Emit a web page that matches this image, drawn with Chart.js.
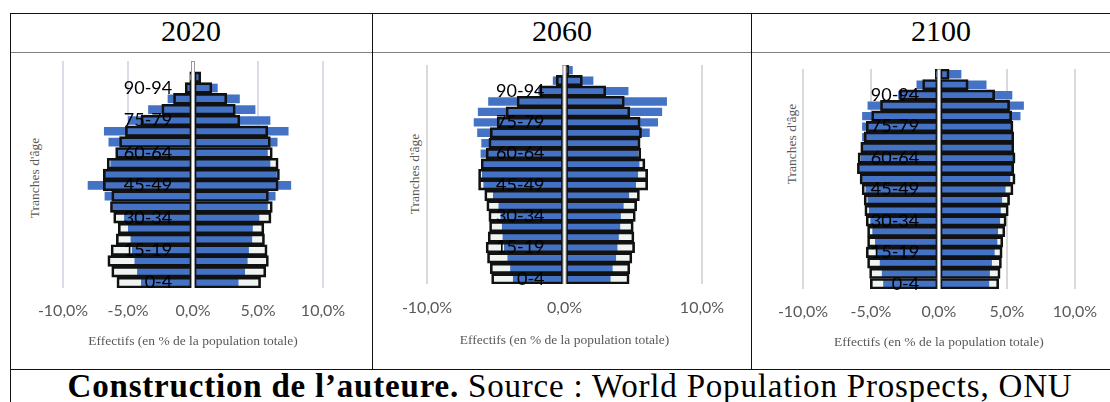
<!DOCTYPE html>
<html>
<head>
<meta charset="utf-8">
<script src="https://cdn.jsdelivr.net/npm/chart.js@4.4.1/dist/chart.umd.min.js"></script>
<style>
  body { margin: 0; background: #fff; }
  #page { position: relative; width: 1110px; height: 402px; overflow: hidden; font-family: "Liberation Serif", serif; }
  .hl { position: absolute; height: 0; border-top: 1.5px solid #111; }
  .vl { position: absolute; width: 0; border-left: 1.5px solid #111; }
  .head { position: absolute; top: 13px; height: 40px; line-height: 36px; text-align: center; font-size: 30px; color: #000; }
  .ytitle { position: absolute; transform: translate(-50%, -50%) rotate(-90deg); font-size: 13.5px; color: #595959; white-space: nowrap; }
  #caption { position: absolute; left: 10px; width: 1120px; top: 369px; line-height: 34px; text-align: center; font-size: 33px; letter-spacing: 0.8px; white-space: nowrap; }
  canvas { position: absolute; }
</style>
</head>
<body>
<div id="page">
  <div class="hl" style="left:10px;width:1100px;top:12.5px"></div>
  <div class="hl" style="left:10px;width:1100px;top:52px;border-top:1px solid #808080"></div>
  <div class="hl" style="left:10px;width:1100px;top:368.5px"></div>
  <div class="vl" style="left:9.5px;top:13px;height:389px"></div>
  <div class="vl" style="left:372px;top:13px;height:356px"></div>
  <div class="vl" style="left:751px;top:13px;height:356px"></div>

  <div class="head" style="left:10px;width:362px">2020</div>
  <div class="head" style="left:373px;width:378px">2060</div>
  <div class="head" style="left:752px;width:378px">2100</div>

  <span class="ytitle" style="left:35px;top:178px">Tranches d'âge</span>
  <span class="ytitle" style="left:415px;top:174px">Tranches d'âge</span>
  <span class="ytitle" style="left:792px;top:144px">Tranches d'âge</span>

  <canvas id="c2020" width="356" height="338" style="left:14px;top:26px"></canvas>
  <canvas id="c2060" width="372" height="334" style="left:376px;top:30px"></canvas>
  <canvas id="c2100" width="355" height="330" style="left:755px;top:34px"></canvas>

  <div id="caption"><b>Construction de l’auteure.</b> Source : World Population Prospects, ONU</div>
</div>

<script>
const ages = ['0-4', '5-9', '10-14', '15-19', '20-24', '25-29', '30-34', '35-39', '40-44', '45-49',
  '50-54', '55-59', '60-64', '65-69', '70-74', '75-79', '80-84', '85-89', '90-94', '95-99', '100+'];

// 2020 : barres bleues et barres encadrées (en % de la population totale)
const bleuHommes2020 = [4.0, 4.3, 4.5, 4.7, 4.8, 5.0, 5.3, 6.2, 6.8, 8.1, 6.85, 6.35, 5.9, 6.5, 6.85, 5.0, 3.45, 1.95, 0.45, 0.1, 0.02];
const bleuFemmes2020 = [3.5, 4.0, 4.2, 4.3, 4.55, 4.6, 5.1, 5.75, 6.35, 7.55, 6.45, 5.95, 5.75, 6.5, 7.35, 5.95, 4.8, 3.6, 1.9, 0.55, 0.05];
const cadreHommes2020 = [5.85, 6.25, 6.55, 6.3, 5.9, 5.75, 6.1, 6.35, 6.25, 6.9, 6.9, 6.6, 5.95, 5.65, 5.2, 4.0, 2.4, 1.5, 0.6, 0.25, 0.03];
const cadreFemmes2020 = [5.2, 5.6, 5.8, 5.7, 5.5, 5.45, 6.0, 6.1, 5.8, 6.55, 6.65, 6.55, 6.1, 5.95, 5.75, 3.6, 3.25, 2.6, 1.45, 0.6, 0.05];

// 2060
const bleuHommes2060 = [3.75, 3.95, 4.15, 4.4, 4.5, 4.55, 4.65, 4.8, 5.2, 5.9, 6.0, 5.9, 6.1, 6.05, 6.35, 6.6, 6.3, 5.55, 1.9, 0.85, 0.1];
const bleuFemmes2060 = [3.35, 3.5, 3.75, 3.85, 3.95, 4.05, 4.1, 4.3, 4.7, 5.2, 5.35, 5.45, 5.35, 5.35, 6.2, 6.8, 7.1, 7.45, 4.65, 2.1, 0.6];
const cadreHommes2060 = [5.3, 5.4, 5.6, 5.7, 5.55, 5.45, 5.5, 5.65, 5.8, 6.25, 6.25, 6.05, 5.7, 5.5, 5.4, 4.9, 4.25, 3.45, 1.8, 0.6, 0.12];
const cadreFemmes2060 = [4.7, 4.75, 4.9, 5.1, 5.05, 5.0, 5.15, 5.25, 5.45, 6.05, 6.05, 5.85, 5.55, 5.5, 5.6, 5.5, 4.75, 4.35, 3.0, 1.3, 0.3];

// 2100
const bleuHommes2100 = [4.1, 4.2, 4.35, 4.55, 4.7, 4.9, 5.05, 5.15, 5.25, 5.4, 5.65, 5.85, 5.75, 5.6, 5.65, 5.65, 5.65, 5.25, 3.0, 1.65, 0.2];
const bleuFemmes2100 = [3.7, 3.75, 3.9, 4.1, 4.3, 4.35, 4.5, 4.55, 4.65, 4.9, 5.25, 5.4, 5.45, 5.35, 5.35, 5.3, 6.0, 6.25, 5.4, 3.5, 1.65];
const cadreHommes2100 = [5.05, 5.1, 5.25, 5.35, 5.25, 5.25, 5.35, 5.45, 5.5, 5.65, 5.8, 6.0, 5.95, 5.75, 5.5, 5.35, 4.95, 4.3, 2.9, 1.2, 0.27];
const cadreFemmes2100 = [4.4, 4.5, 4.6, 4.65, 4.7, 4.85, 4.95, 5.1, 5.2, 5.45, 5.6, 5.5, 5.6, 5.5, 5.5, 5.45, 5.35, 5.2, 4.1, 2.15, 0.75];

Chart.defaults.font.family = 'Lato';

const neg = a => a.map(v => -v);
const pct = v => v.toFixed(1).replace('.', ',') + '%';

// trait vertical du zéro, dessiné par-dessus les barres
const axeZero = {
  id: 'axeZero',
  afterDatasetsDraw(chart) {
    const {ctx, chartArea, scales} = chart;
    const x0 = scales.x.getPixelForValue(0);
    ctx.save();
    ctx.fillStyle = '#9a9a9a';
    ctx.fillRect(x0 - 2, chartArea.top, 4, chartArea.bottom - chartArea.top);
    ctx.fillStyle = '#ffffff';
    ctx.fillRect(x0 - 1, chartArea.top + 1, 2, chartArea.bottom - chartArea.top - 1);
    ctx.restore();
  }
};

function pyramide(id, bleuH, bleuF, cadreH, cadreF, o) {
  const base = {grouped: false, categoryPercentage: 1};
  const fond = {...base, backgroundColor: '#eff4f1', borderWidth: 0, barPercentage: 1, order: 3};
  const bleu = {...base, backgroundColor: '#4472C4', borderWidth: 0, barPercentage: 0.8, order: 2};
  const cadre = {...base, backgroundColor: 'rgba(0,0,0,0)', borderColor: '#111', borderWidth: 2,
    borderSkipped: false, barPercentage: 1, order: 1};

  new Chart(document.getElementById(id), {
    type: 'bar',
    data: {
      labels: ages,
      datasets: [
        {...fond, data: neg(cadreH)}, {...fond, data: cadreF},
        {...bleu, data: neg(bleuH)}, {...bleu, data: bleuF},
        {...cadre, data: neg(cadreH)}, {...cadre, data: cadreF}
      ]
    },
    options: {
      indexAxis: 'y',
      responsive: false,
      animation: false,
      devicePixelRatio: 1,
      layout: {padding: o.pad},
      plugins: {legend: {display: false}, tooltip: {enabled: false}},
      scales: {
        x: {
          min: -10, max: 10,
          ticks: {stepSize: o.step, callback: pct, color: '#595959', font: {size: 16}, padding: o.tickPad, maxRotation: 0},
          grid: {color: o.grid, lineWidth: 2, drawTicks: false},
          border: {display: false},
          title: {
            display: true, text: 'Effectifs (en % de la population totale)', color: '#595959',
            font: {family: 'Liberation Serif', size: 13.5}, padding: {top: o.titlePad, bottom: 0}
          }
        },
        y: {
          // libellés d'âge posés un peu à gauche du zéro, par-dessus les barres
          position: {x: o.labelAt},
          reverse: true,
          grid: {display: false},
          border: {display: false},
          ticks: {z: 1, autoSkip: false, color: '#000', font: {size: 18},
            callback: v => (v % 3 === 0 ? ages[v] : '')}
        }
      }
    },
    plugins: [axeZero]
  });
}

pyramide('c2020', bleuHommes2020, bleuFemmes2020, cadreHommes2020, cadreFemmes2020,
  {step: 5, grid: '#d8dde8', tickPad: 13, titlePad: 0, labelAt: -1.6, pad: {left: 49, right: 47, top: 35, bottom: 14.6}});
pyramide('c2060', bleuHommes2060, bleuFemmes2060, cadreHommes2060, cadreFemmes2060,
  {step: 10, grid: '#d9d9d9', tickPad: 14, titlePad: 0.7, labelAt: -1.45, pad: {left: 51, right: 46, top: 35, bottom: 15.9}});
pyramide('c2100', bleuHommes2100, bleuFemmes2100, cadreHommes2100, cadreFemmes2100,
  {step: 5, grid: '#d9d9d9', tickPad: 13, titlePad: 0, labelAt: -1.45, pad: {left: 48, right: 30, top: 35, bottom: 13.6}});
</script>
</body>
</html>
